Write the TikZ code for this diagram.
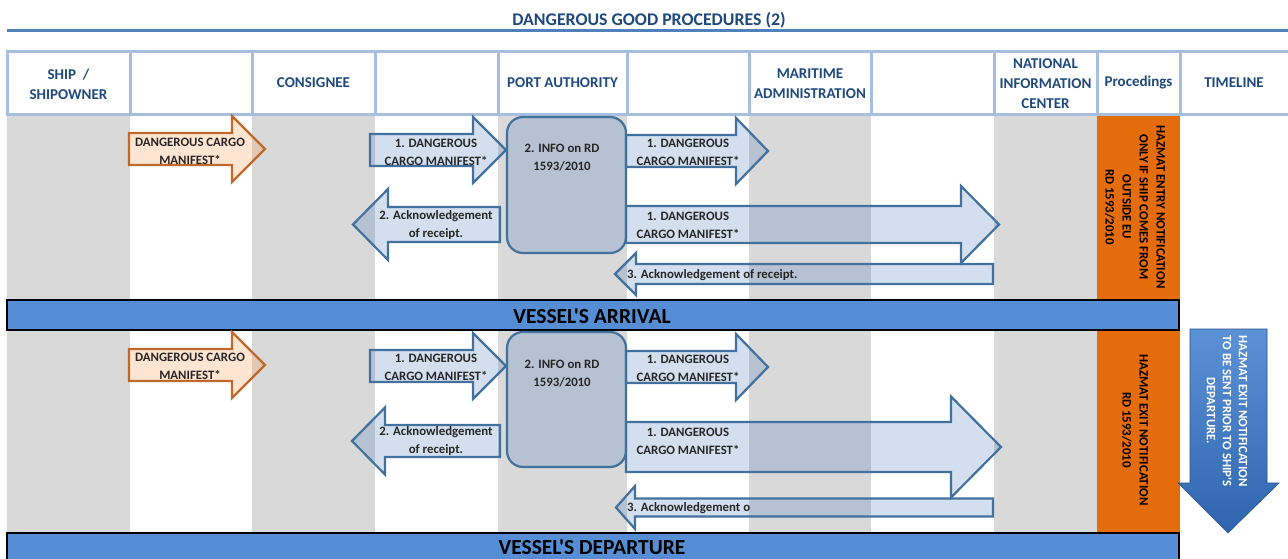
\documentclass[tikz,border=0pt]{standalone}
\usepackage{fontspec}
\setmainfont{Carlito}
\newfontfamily\plainfont{Carlito}
\usetikzlibrary{positioning}
\definecolor{titleblue}{HTML}{1F497D}
\definecolor{lineblue}{HTML}{4F81BD}
\definecolor{headline}{HTML}{A7BFDE}
\definecolor{lanegray}{HTML}{D9D9D9}
\definecolor{procorange}{HTML}{E46C0A}
\definecolor{barblue}{HTML}{558ED5}
\definecolor{arrowline}{HTML}{41719C}
\definecolor{arrowfill}{HTML}{4F81BD}
\definecolor{orangeline}{HTML}{C0692B}
\definecolor{orangefill}{HTML}{F79646}
\definecolor{timetop}{HTML}{5B91D6}
\definecolor{timebot}{HTML}{2F65AE}
\tikzset{
    hdrline/.style = {draw=headline, line width=3pt},
    hdr/.style = {font=\fontsize{15}{20}\selectfont\bfseries, text=titleblue, align=center, inner sep=0pt},
    arrtxt/.style = {font=\fontsize{12.8}{18}\selectfont\bfseries, text=black!85, align=center, inner sep=0pt},
    blockb/.style = {draw=arrowline, line width=2.2pt, fill=arrowfill, fill opacity=0.25},
    blocko/.style = {draw=orangeline, line width=2.2pt, fill=orangefill, fill opacity=0.25},
    infobox/.style = {rectangle, rounded corners=16pt, draw=arrowline, line width=2.2pt, fill=arrowfill, fill opacity=0.25, minimum width=119pt, minimum height=136pt},
    lanebar/.style = {draw=black, line width=1.8pt, fill=barblue},
    bartxt/.style = {font=\fontsize{21.5}{24}\plainfont\bfseries, inner sep=0pt},
    vtxt/.style = {font=\fontsize{12.8}{17}\plainfont\bfseries, rotate=-90, align=center, inner sep=0pt},
}
% block arrow: tail x, head base x, tip x, centre y, body half, head half
\newcommand{\blockarrow}[7][blockb]{%
  \draw[#1] (#2,#5-#6) -- (#3,#5-#6) -- (#3,#5-#7) -- (#4,#5) -- (#3,#5+#7) -- (#3,#5+#6) -- (#2,#5+#6) -- cycle;}

\begin{document}
\begin{tikzpicture}[x=1pt,y=-1pt]
\useasboundingbox (0,0) rectangle (1288,559);
% title
\node[hdr, font=\fontsize{17.8}{20}\selectfont\bfseries] (title) at (649,20) {DANGEROUS GOOD PROCEDURES (2)};
\draw[draw=lineblue, line width=3pt] (7,31) -- (1290,31);
% lanes
\foreach \xa/\xb in {7/130,252/375,498/627,749/871,994/1097} {
  \fill[lanegray] (\xa,116) rectangle (\xb,300);
  \fill[lanegray] (\xa,330) rectangle (\xb,533);
}
\fill[procorange] (1097,116) rectangle (1180,300);
\fill[procorange] (1097,330) rectangle (1180,533);
% header row
\draw[hdrline] (7,52) rectangle (1292,115);
\foreach \x in {130,252,375,498,627,749,871,994,1097,1180}
  \draw[hdrline] (\x,52) -- (\x,115);
\node[hdr] (ship) at (68.5,84) {SHIP~~/\\SHIPOWNER};
\node[hdr] (cons) at (313.5,83) {CONSIGNEE};
\node[hdr] (port) at (562.5,83) {PORT AUTHORITY};
\node[hdr] (mar) at (810,84) {MARITIME\\ADMINISTRATION};
\node[hdr] (nic) at (1045.5,84) {NATIONAL\\INFORMATION\\CENTER};
\node[hdr] (proc) at (1138.5,83) {Procedings};
\node[hdr] (time) at (1234,83) {TIMELINE};
% vessel bars
\draw[lanebar] (7,300) rectangle (1179,330);
\node[bartxt] (arr) at (592,316) {VESSEL'S ARRIVAL};
\draw[lanebar] (7,533) rectangle (1179,566);
\node[bartxt] (dep) at (592,547.5) {VESSEL'S DEPARTURE};

% arrival
\blockarrow[blocko]{129}{232}{265}{149}{16}{33}
\node[arrtxt] (manA) at (190,151) {DANGEROUS CARGO\\MANIFEST*};
\blockarrow{370}{473}{506}{150}{16}{33}
\node[arrtxt] (dcmA1) at (436,152) {1. DANGEROUS\\CARGO MANIFEST*};
\blockarrow{500}{388}{353}{224.5}{17.5}{35.5}
\node[arrtxt] (ackA2) at (436,225) {2. Acknowledgement\\of receipt.};
\node[infobox] (infoA) at (566.5,185) {};
\node[arrtxt] (infoAt) at (562,158) {2. INFO on RD\\1593/2010};
\blockarrow{626}{736}{768}{151}{16}{33}
\node[arrtxt] (dcmA2) at (688,152) {1. DANGEROUS\\CARGO MANIFEST*};
\blockarrow{626}{961}{999}{224.5}{18.5}{38.5}
\node[arrtxt] (dcmA3) at (688,225) {1. DANGEROUS\\CARGO MANIFEST*};
\blockarrow{993}{636}{615}{274}{10}{21}
\node[arrtxt, anchor=west] (ackA3) at (627,275) {3. Acknowledgement of receipt.};
\node[vtxt] (entry) at (1135,207) {HAZMAT ENTRY NOTIFICATION\\ONLY IF SHIP COMES FROM\\OUTSIDE EU\\RD 1593/2010};

% departure
\blockarrow[blocko]{129}{232}{265}{365}{16}{33}
\node[arrtxt] (manD) at (190,366) {DANGEROUS CARGO\\MANIFEST*};
\blockarrow{370}{473}{506}{366}{16}{33}
\node[arrtxt] (dcmD1) at (436,367) {1. DANGEROUS\\CARGO MANIFEST*};
\blockarrow{500}{385}{352}{441}{16}{33.5}
\node[arrtxt] (ackD2) at (436,441) {2. Acknowledgement\\of receipt.};
\node[infobox, minimum height=135pt] (infoD) at (566.5,399.5) {};
\node[arrtxt] (infoDt) at (562,374) {2. INFO on RD\\1593/2010};
\blockarrow{626}{736}{768}{367}{16}{33}
\node[arrtxt] (dcmD2) at (688,368) {1. DANGEROUS\\CARGO MANIFEST*};
\blockarrow{626}{951}{1001}{447}{25}{50.5}
\node[arrtxt] (dcmD3) at (688,441) {1. DANGEROUS\\CARGO MANIFEST*};
\blockarrow{993}{635}{616}{507.5}{9}{21.5}
\begin{scope}
  \clip (620,490) rectangle (749,525);
  \node[arrtxt, anchor=west] (ackD3) at (627,508) {3. Acknowledgement of receipt.};
\end{scope}
\node[vtxt] (exit) at (1135,430) {HAZMAT EXIT NOTIFICATION\\RD 1593/2010};

% timeline
\shade[top color=timetop, bottom color=timebot, draw=timebot!80!black, line width=0.6pt]
  (1190,329) -- (1267,329) -- (1267,483) -- (1279,483) -- (1228,533) -- (1178,483) -- (1190,483) -- cycle;
\node[vtxt, text=white, font=\fontsize{12.8}{16}\plainfont\bfseries] (exitT) at (1227,411) {HAZMAT EXIT NOTIFICATION\\TO BE SENT PRIOR TO SHIP'S\\DEPARTURE.};
\end{tikzpicture}
\end{document}
